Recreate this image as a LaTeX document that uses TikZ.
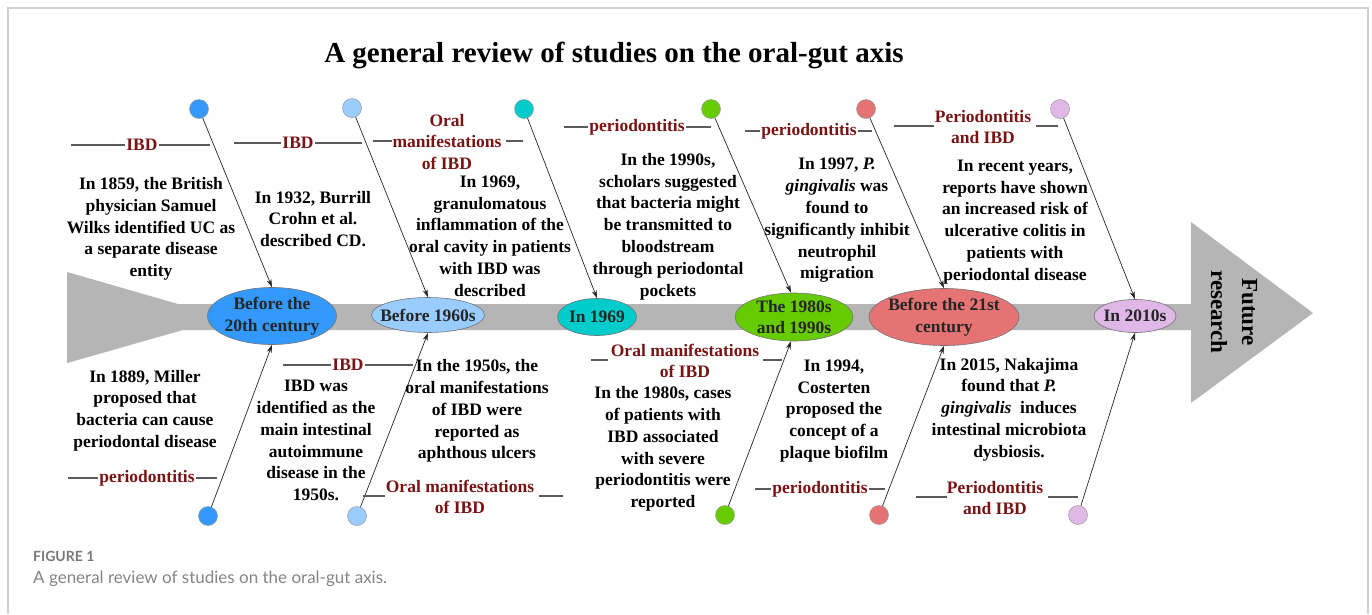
\documentclass[tikz,border=0pt]{standalone}
\usepackage{fontspec}
\setmainfont{Liberation Serif}
\newfontfamily\capfont{Lato}
\usetikzlibrary{shapes.geometric,arrows.meta}
\definecolor{cBlue}{HTML}{3399FF}
\definecolor{cLBlue}{HTML}{99CCFF}
\definecolor{cTeal}{HTML}{00CCCC}
\definecolor{cGreen}{HTML}{66CC00}
\definecolor{cRed}{HTML}{E57373}
\definecolor{cLilac}{HTML}{E0B8E8}
\definecolor{spinegray}{HTML}{B5B5B5}
\definecolor{labred}{HTML}{7A1414}
\definecolor{linegray}{HTML}{5A5A5A}
\definecolor{framegray}{HTML}{D0D0D0}
\definecolor{capgray}{HTML}{858585}
\newcommand\bodyfnt{\fontsize{17.5}{21.8}\selectfont\bfseries}
\newcommand\titlefnt{\fontsize{29}{34}\selectfont\bfseries}
\newcommand\futfnt{\fontsize{23}{31}\selectfont\bfseries}
\begin{document}
\begin{tikzpicture}[x=1pt,y=-1pt,
  body/.style={font=\bodyfnt, align=center, inner sep=0pt, text=black},
  lab/.style={font=\bodyfnt, align=center, inner sep=1pt, text=labred},
  labline/.style={draw=linegray, line width=1.3pt},
  arr/.style={draw=black!85, line width=0.7pt, -{Stealth[length=8pt,width=5pt]}},
  dot/.style={circle, minimum size=19pt, inner sep=0pt, draw=black!40, line width=0.5pt},
  era/.style={ellipse, draw=black!55, line width=0.6pt, inner sep=0pt},
  etext/.style={font=\bodyfnt, align=center, inner sep=0pt, text=black!85},
]
\useasboundingbox (0,0) rectangle (1372,614);
\fill[white] (0,0) rectangle (1372,614);
\draw[framegray, line width=1.2pt] (8,614) -- (8,8) -- (1368,8) -- (1368,614);

% spine
\fill[spinegray] (67,272) -- (178,304) -- (1191,304) -- (1191,222) -- (1313,313)
  -- (1191,403) -- (1191,330) -- (183,330) -- (67,363) -- cycle;
\node[font=\futfnt, rotate=-90, align=center, inner sep=0pt] (fut) at (1234,312) {Future\\research};

% title
\node[font=\titlefnt, inner sep=0pt] (title) at (614,55) {A general review of studies on the oral-gut axis};

% eras
\node[era, fill=cBlue, minimum width=129pt, minimum height=57pt] (e1) at (272,316) {};
\node[etext] at (e1) {Before the\\20th century};
\node[era, fill=cLBlue, minimum width=113pt, minimum height=35pt] (e2) at (428,315) {};
\node[etext] at (e2) {Before 1960s};
\node[era, fill=cTeal, minimum width=79pt, minimum height=37pt] (e3) at (597,317) {};
\node[etext] at (e3) {In 1969};
\node[era, fill=cGreen, minimum width=118pt, minimum height=48pt] (e4) at (794,317) {};
\node[etext] at (e4) {The 1980s\\and 1990s};
\node[era, fill=cRed, minimum width=150pt, minimum height=57pt] (e5) at (944,317) {};
\node[etext] at (e5) {Before the 21st\\century};
\node[era, fill=cLilac, minimum width=82pt, minimum height=33pt] (e6) at (1135,316) {};
\node[etext] at (e6) {In 2010s};

% circles
\node[dot, fill=cBlue] (t1) at (199,109) {};
\node[dot, fill=cLBlue] (t2) at (352,108) {};
\node[dot, fill=cTeal] (t3) at (524,109) {};
\node[dot, fill=cGreen] (t4) at (711,109) {};
\node[dot, fill=cRed] (t5) at (866,109) {};
\node[dot, fill=cLilac] (t6) at (1060,109) {};
\node[dot, fill=cBlue] (b1) at (208,516) {};
\node[dot, fill=cLBlue] (b2) at (357,516) {};
\node[dot, fill=cGreen] (b4) at (725,515) {};
\node[dot, fill=cRed] (b5) at (879,515) {};
\node[dot, fill=cLilac] (b6) at (1078,515) {};

% arrows
\draw[arr] (t1) -- (e1.north);
\draw[arr] (t2) -- (e2.north);
\draw[arr] (t3) -- (e3.north);
\draw[arr] (t4) -- (e4.97);
\draw[arr] (t5) -- (e5.north);
\draw[arr] (t6) -- (e6.north);
\draw[arr] (b1) -- (e1.south);
\draw[arr] (b2) -- (e2.south);
\draw[arr] (b4) -- (e4.263);
\draw[arr] (b5) -- (e5.south);
\draw[arr] (b6) -- (e6.south);

% top labels
\node[lab] (lt1) at (142,145) {IBD};
\draw[labline] (71,145) -- (lt1.west);
\draw[labline] (lt1.east) -- (210,145);
\node[lab] (lt2) at (298,143) {IBD};
\draw[labline] (234,143) -- (lt2.west);
\draw[labline] (lt2.east) -- (362,143);
\node[lab] (lt3) at (447,142) {Oral\\manifestations\\of IBD};
\draw[labline] (373,141) -- (392,141);
\draw[labline] (506,141) -- (523,141);
\node[lab] (lt4) at (637,127) {periodontitis};
\draw[labline] (564,127) -- (lt4.west);
\draw[labline] (lt4.east) -- (711,127);
\node[lab] (lt5) at (809,131) {periodontitis};
\draw[labline] (745,131) -- (lt5.west);
\draw[labline] (lt5.east) -- (872,131);
\node[lab] (lt6) at (983,127) {Periodontitis\\and IBD};
\draw[labline] (894,126) -- (934,126);
\draw[labline] (1036,126) -- (1058,126);

% bottom labels
\node[lab] (lb1) at (147,478) {periodontitis};
\draw[labline] (68,478) -- (lb1.west);
\draw[labline] (lb1.east) -- (217,478);
\node[lab] (lb2) at (348,365) {IBD};
\draw[labline] (283,365) -- (lb2.west);
\draw[labline] (lb2.east) -- (413,365);
\node[lab] (lb3) at (460,497) {Oral manifestations\\of IBD};
\draw[labline] (363,496) -- (385,496);
\draw[labline] (539,496) -- (563,496);
\node[lab] (lb4) at (685,361) {Oral manifestations\\of IBD};
\draw[labline] (591,360) -- (608,360);
\draw[labline] (763,360) -- (782,360);
\node[lab] (lb5) at (820,489) {periodontitis};
\draw[labline] (755,489) -- (lb5.west);
\draw[labline] (lb5.east) -- (885,489);
\node[lab] (lb6) at (995,498) {Periodontitis\\and IBD};
\draw[labline] (916,497) -- (947,497);
\draw[labline] (1048,497) -- (1078,497);

% top texts
\node[body] (x1) at (151,229) {In 1859, the British\\physician Samuel\\Wilks identified UC as\\a separate disease\\entity};
\node[body] (x2) at (313,219) {In 1932, Burrill\\Crohn et al.\\described CD.};
\node[body] (x3) at (490,236) {In 1969,\\granulomatous\\inflammation of the\\oral cavity in patients\\with IBD was\\described};
\node[body] (x4) at (668,226.5) {In the 1990s,\\scholars suggested\\that bacteria might\\be transmitted to\\bloodstream\\through periodontal\\pockets};
\node[body] (x5) at (837,220.5) {In 1997, \textit{P.}\\\textit{gingivalis} was\\found to\\significantly inhibit\\neutrophil\\migration};
\node[body] (x6) at (1015,222) {In recent years,\\reports have shown\\an increased risk of\\ulcerative colitis in\\patients with\\periodontal disease};

% bottom texts
\node[body] (y1) at (145,410.5) {In 1889, Miller\\proposed that\\bacteria can cause\\periodontal disease};
\node[body] (y2) at (316,440.5) {IBD was\\identified as the\\main intestinal\\autoimmune\\disease in the\\1950s.};
\node[body] (y3) at (477,411) {In the 1950s, the\\oral manifestations\\of IBD were\\reported as\\aphthous ulcers};
\node[body] (y4) at (663,449) {In the 1980s, cases\\of patients with\\IBD associated\\with severe\\periodontitis were\\reported};
\node[body] (y5) at (834,411) {In 1994,\\Costerten\\proposed the\\concept of a\\plaque biofilm};
\node[body] (y6) at (1009,409.5) {In 2015, Nakajima\\found that \textit{P.}\\\textit{gingivalis}\ \ induces\\intestinal microbiota\\dysbiosis.};

% caption
\node[font=\capfont\bfseries\fontsize{14}{16}\selectfont, text=capgray!90!black, anchor=west, inner sep=0pt] (cap1) at (33,556) {FIGURE 1};
\node[font=\capfont\fontsize{17}{20}\selectfont, text=capgray, anchor=west, inner sep=0pt] (cap2) at (33,579) {A general review of studies on the oral-gut axis.};
\end{tikzpicture}
\end{document}
